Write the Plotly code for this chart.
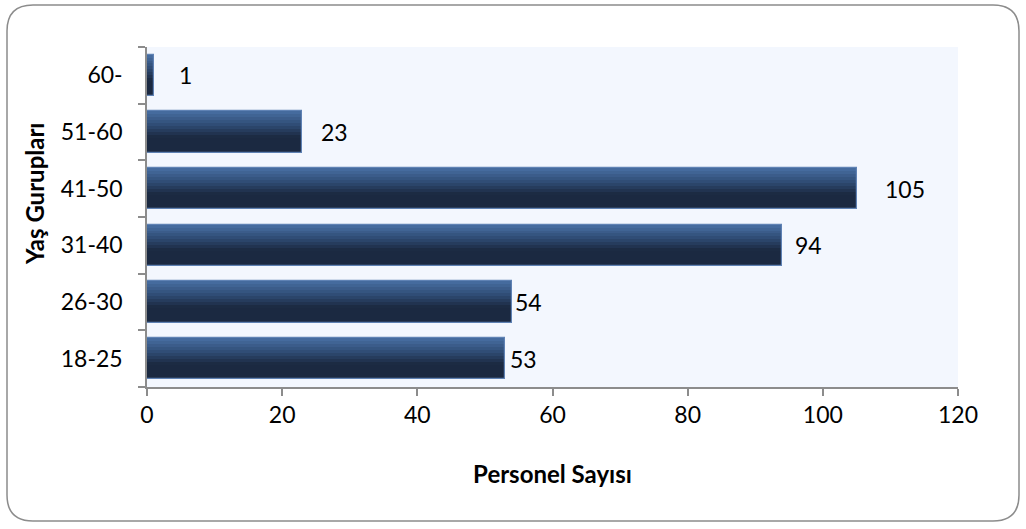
import plotly.graph_objects as go

categories = ["18-25", "26-30", "31-40", "41-50", "51-60", "60-"]
personel = [53, 54, 94, 105, 23, 1]
x_ticks = [0, 20, 40, 60, 80, 100, 120]
label_gap = [3, 1, 11, 26, 17, 23]  # px gap of each value label from its bar end

W, H = 1026, 529
L, R, T, B = 147, 958, 47, 387  # plot area in pixels
FONT = "Lato"
TICK_SIZE = 23

def px(x):
    return (x - L) / (R - L)

def py(y):
    return (B - y) / (B - T)

def lerp(c1, c2, t):
    return "#%02x%02x%02x" % tuple(int(round(a + (b - a) * t)) for a, b in zip(c1, c2))

top_c = (0x48, 0x6F, 0xA3)
mid_c = (0x2E, 0x4A, 0x72)
dark_c = (0x1B, 0x29, 0x41)

bar_w = 0.73
N = 14
fig = go.Figure()
for i in range(N):
    t = (i + 0.5) / N  # 0 = top, 1 = bottom
    if t < 0.35:
        col = lerp(top_c, mid_c, t / 0.35)
    elif t < 0.62:
        col = lerp(mid_c, dark_c, (t - 0.35) / 0.27)
    else:
        col = lerp(dark_c, dark_c, 0)
    h = bar_w / N
    off = bar_w / 2 - (i + 1) * h
    fig.add_trace(go.Bar(
        x=personel, y=categories, orientation="h",
        width=h * 1.02, offset=off,
        marker=dict(color=col, line=dict(width=0)),
        hoverinfo="skip", showlegend=False,
    ))
# outline
fig.add_trace(go.Bar(
    x=personel, y=categories, orientation="h",
    width=bar_w, offset=-bar_w / 2,
    marker=dict(color="rgba(0,0,0,0)", line=dict(color="#5F82B4", width=1.2)),
    showlegend=False,
))

for v, c, g in zip(personel, categories, label_gap):
    fig.add_annotation(x=v, y=c, text=str(v), showarrow=False,
                       xanchor="left", xshift=g, yanchor="middle",
                       font=dict(family=FONT, size=TICK_SIZE, color="#000000"))

# y-axis title
fig.add_annotation(x=px(34), y=py(194), xref="paper", yref="paper",
                   xanchor="center", yanchor="middle",
                   text="<b>Yaş Gurupları</b>", textangle=-90, showarrow=False,
                   font=dict(family=FONT, size=24, color="#000000"))

# outer rounded border
x0, x1, y0, y1, r = 7, 1019, 5, 521, 26
rx = r / (R - L)
ry = r / (B - T)
X0, X1, Y0, Y1 = px(x0), px(x1), py(y1), py(y0)
path = (f"M {X0+rx},{Y1} L {X1-rx},{Y1} Q {X1},{Y1} {X1},{Y1-ry} "
        f"L {X1},{Y0+ry} Q {X1},{Y0} {X1-rx},{Y0} L {X0+rx},{Y0} "
        f"Q {X0},{Y0} {X0},{Y0+ry} L {X0},{Y1-ry} Q {X0},{Y1} {X0+rx},{Y1} Z")
fig.add_shape(type="path", path=path, xref="paper", yref="paper",
              line=dict(color="#8C8C8C", width=1.5), layer="below")

fig.update_layout(
    width=W, height=H,
    margin=dict(l=L, r=W - R, t=T, b=H - B),
    paper_bgcolor="#FFFFFF", plot_bgcolor="#F3F7FE",
    barmode="overlay", bargap=0,
    font=dict(family=FONT, size=TICK_SIZE, color="#000000"),
    xaxis=dict(range=[0, 120], tickvals=x_ticks, ticktext=[str(v) for v in x_ticks],
               showgrid=False, zeroline=False, showline=True,
               linecolor="#8C8C8C", linewidth=1.5,
               ticks="outside", ticklen=7, tickcolor="#8C8C8C", tickwidth=1.5,
               tickfont=dict(family=FONT, size=TICK_SIZE),
               title=dict(text="<b>Personel Sayısı</b>", standoff=39,
                          font=dict(family=FONT, size=24))),
    yaxis=dict(categoryorder="array", categoryarray=categories,
               showgrid=False, zeroline=False, showline=True,
               linecolor="#8C8C8C", linewidth=1.5,
               ticks="outside", ticklen=7, tickcolor="#8C8C8C", tickwidth=1.5,
               tickson="boundaries", ticklabelstandoff=18,
               tickfont=dict(family=FONT, size=TICK_SIZE)),
)

fig.write_html("out.html", config={"displayModeBar": False},
               post_script="document.body.style.margin='0';")
